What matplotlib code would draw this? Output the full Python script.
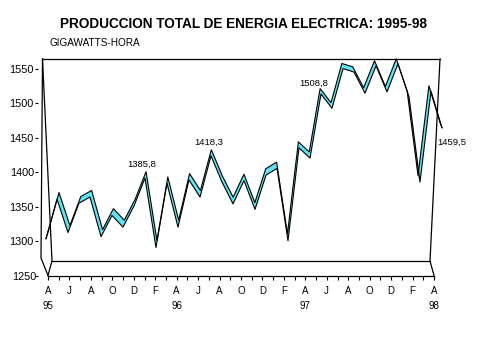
import matplotlib
matplotlib.use('Agg')
import matplotlib.pyplot as plt
import matplotlib.transforms as mtrans
from matplotlib.patches import Polygon
from matplotlib.lines import Line2D
import numpy as np

plt.rcParams['font.family'] = ['Liberation Sans', 'DejaVu Sans']

# ---- data (monthly, Apr-1995 .. Apr-1998) ----
periods = ['Abr95', 'May95', 'Jun95', 'Jul95', 'Ago95', 'Sep95', 'Oct95', 'Nov95', 'Dic95',
           'Ene96', 'Feb96', 'Mar96', 'Abr96', 'May96', 'Jun96', 'Jul96', 'Ago96', 'Sep96',
           'Oct96', 'Nov96', 'Dic96', 'Ene97', 'Feb97', 'Mar97', 'Abr97', 'May97', 'Jun97',
           'Jul97', 'Ago97', 'Sep97', 'Oct97', 'Nov97', 'Dic97', 'Ene98', 'Feb98', 'Mar98',
           'Abr98']
values = [1297, 1355, 1306, 1349, 1358, 1300, 1331, 1314, 1345,
          1385.8, 1284, 1378, 1314, 1383, 1358, 1418.3, 1380, 1348,
          1382, 1340, 1390, 1400, 1294, 1430, 1415, 1508.8, 1488,
          1546, 1541, 1510, 1550, 1512, 1553, 1505, 1380, 1513,
          1459.5]
labelled = {'Ene96': '1385,8', 'Jul96': '1418,3', 'May97': '1508,8', 'Abr98': '1459,5'}
tick_months = ['A', 'J', 'A', 'O', 'D', 'F', 'A', 'J', 'A', 'O', 'D', 'F',
               'A', 'J', 'A', 'O', 'D', 'F', 'A']
tick_years = ['95', '', '', '', '', '', '96', '', '', '', '', '',
              '97', '', '', '', '', '', '98']
y_ticks = [1250, 1300, 1350, 1400, 1450, 1500, 1550]

W, H = 479, 359
fig = plt.figure(figsize=(W / 100, H / 100), dpi=100)
fig.patch.set_facecolor('white')


def fx(x):
    return x / W


def fy(y):
    return 1 - y / H


# ---- front (axis) plane ----
ax = fig.add_axes([fx(48), fy(275.5), (434 - 48) / W, (275.5 - 69) / H])
ax.set_xlim(0, len(periods) - 1)
ax.set_ylim(1250, 1550)
ax.patch.set_visible(False)
for s in ['top', 'right', 'left']:
    ax.spines[s].set_visible(False)
ax.spines['bottom'].set_linewidth(0.9)
ax.spines['left'].set_position(('outward', 7))
ax.set_yticks(y_ticks)
ax.set_yticklabels([str(t) for t in y_ticks])
ax.tick_params(axis='y', length=3 * 0.72, width=0.8, pad=1, labelsize=7.8)
maj = list(range(0, len(periods), 2))
ax.set_xticks(maj)
ax.set_xticklabels([f'{m}\n{y}' for m, y in zip(tick_months, tick_years)])
ax.set_xticks(list(range(1, len(periods), 2)), minor=True)
ax.tick_params(axis='x', which='both', length=4 * 0.72, width=0.8, pad=5, labelsize=7)
for t in ax.get_xticklabels():
    t.set_linespacing(1.55)
    t.set_verticalalignment('top')

# shift the 1250 label towards the corner
lab0 = ax.get_yticklabels()[0]
lab0.set_transform(lab0.get_transform() + mtrans.ScaledTranslation(3 / 100, 0, fig.dpi_scale_trans))


# ---- frame lines (3D box) ----
def fline(pts, lw=0.9):
    xs = [fx(p[0]) for p in pts]
    ys = [fy(p[1]) for p in pts]
    fig.add_artist(Line2D(xs, ys, color='black', lw=lw, transform=fig.transFigure))


fline([(42.5, 59), (440, 59)])
fline([(42.5, 59), (41, 258), (48, 275.5)])
fline([(42.5, 59), (52, 261), (48, 275.5)])
fline([(52, 261), (430, 261)])
fline([(440, 59), (430, 261), (434, 275.5)])

# ---- series plane ----
ax2 = fig.add_axes([fx(46), fy(270.8), 396 / W, (270.8 - 65.9) / H])
ax2.set_xlim(0, len(periods) - 1)
ax2.set_ylim(1250, 1550)
ax2.axis('off')

xi = np.arange(len(periods), dtype=float)
v = np.array(values, dtype=float)
# perspective depth offset toward a vanishing point
i_vp, v_vp, k = 17.7, 2232.0, 0.011
bx = xi + k * (i_vp - xi)
bv = v + k * (v_vp - v)

front_d = ax2.transData.transform(np.column_stack([xi, v]))
back_d = ax2.transData.transform(np.column_stack([bx, bv]))
for j in range(len(xi) - 1):
    d = front_d[j + 1] - front_d[j]
    o = (back_d[j] + back_d[j + 1]) / 2 - (front_d[j] + front_d[j + 1]) / 2
    cross = d[0] * o[1] - d[1] * o[0]
    col = '#5FE3F2' if cross > 0 else '#2E7C80'
    poly = Polygon([(xi[j], v[j]), (xi[j + 1], v[j + 1]), (bx[j + 1], bv[j + 1]), (bx[j], bv[j])],
                   closed=True, facecolor=col, edgecolor='none', clip_on=False)
    ax2.add_patch(poly)

ax2.plot(xi, v, color='black', lw=0.8, clip_on=False)
ax2.plot(bx, bv, color='black', lw=0.8, clip_on=False)
ax2.plot([xi[0], bx[0]], [v[0], bv[0]], color='black', lw=0.8, clip_on=False)
ax2.plot([xi[-1], bx[-1]], [v[-1], bv[-1]], color='black', lw=0.8, clip_on=False)

offsets = {'Ene96': (-3, 14, 'center'), 'Jul96': (-2, 14, 'center'),
           'May97': (-7, 11, 'center'), 'Abr98': (-5, -15, 'left')}
for p, txt in labelled.items():
    j = periods.index(p)
    dx, dy, ha = offsets[p]
    ax2.annotate(txt, (xi[j], v[j]), xytext=(dx, dy), textcoords='offset pixels',
                 ha=ha, va='center', fontsize=6.8)

# ---- titles ----
fig.text(fx(243), fy(24), 'PRODUCCION TOTAL DE ENERGIA ELECTRICA: 1995-98',
         ha='center', va='center', fontsize=9.8, fontweight='bold')
fig.text(fx(49), fy(43), 'GIGAWATTS-HORA', ha='left', va='center', fontsize=7.2)

fig.savefig('out.png', dpi=100, facecolor='white')
